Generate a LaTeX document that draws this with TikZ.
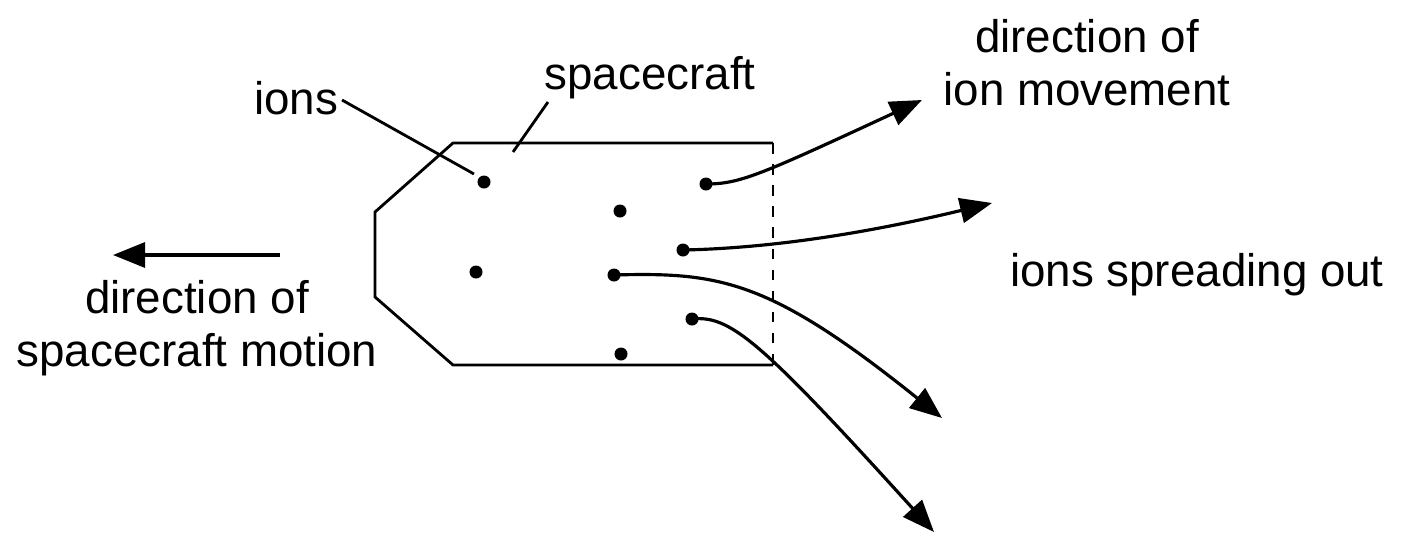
\documentclass[tikz,border=0pt]{standalone}
\usepackage{fontspec}
\setmainfont{Liberation Sans}
\usetikzlibrary{arrows.meta}
\begin{document}
\begin{tikzpicture}[x=0.01cm,y=-0.01cm,
  ion/.style={circle,fill=black,inner sep=0pt,minimum size=0.13cm},
  arr/.style={-{Triangle[length=0.32cm,width=0.25cm]},line width=0.9pt},
  lbl/.style={font=\fontsize{13pt}{15pt}\selectfont,inner sep=0pt,align=center},
  lead/.style={line width=0.8pt}]
\useasboundingbox (0,0) rectangle (1402,551);
\draw[line width=0.8pt] (773,143) -- (453,143) -- (375,212) -- (375,297) -- (453,365) -- (773,365);
\draw[line width=0.8pt,dashed] (773,143) -- (773,365);
\node[ion] (d1) at (484,182) {};
\node[ion] (d2) at (706,184) {};
\node[ion] (d3) at (620,211) {};
\node[ion] (d4) at (683,250) {};
\node[ion] (d5) at (476,272) {};
\node[ion] (d6) at (614,275) {};
\node[ion] (d7) at (692,319) {};
\node[ion] (d8) at (621,354) {};
\coordinate (e1) at (922,100);
\coordinate (e2) at (992,203);
\coordinate (e3) at (942,418);
\coordinate (e4) at (934,532);
\draw[arr] (d2.center) .. controls (740,184) and (760,175) .. (e1);
\draw[arr] (d4.center) .. controls (780,248) and (880,230) .. (e2);
\draw[arr] (d6.center) .. controls (720,272) and (770,280) .. (e3);
\draw[arr] (d7.center) .. controls (730,315) and (760,340) .. (e4);
\node[lbl] (ions) at (296,98) {ions};
\coordinate (c1) at (342,100);
\draw[lead] (c1) -- (474,174);
\node[lbl] (sc) at (650,78) {spacecraft};
\coordinate (c2) at (548,102);
\coordinate (c3) at (513,152);
\draw[lead] (c2) -- (c3);
\node[lbl] (dim) at (1087,63) {direction of\\ion movement};
\node[lbl] (iso) at (1197,275) {ions spreading out};
\coordinate (a1) at (280,255);
\coordinate (a2) at (113,255);
\draw[arr] (a1) -- (a2);
\node[lbl] (dsm) at (197,328) {direction of\\spacecraft motion};
\end{tikzpicture}
\end{document}
